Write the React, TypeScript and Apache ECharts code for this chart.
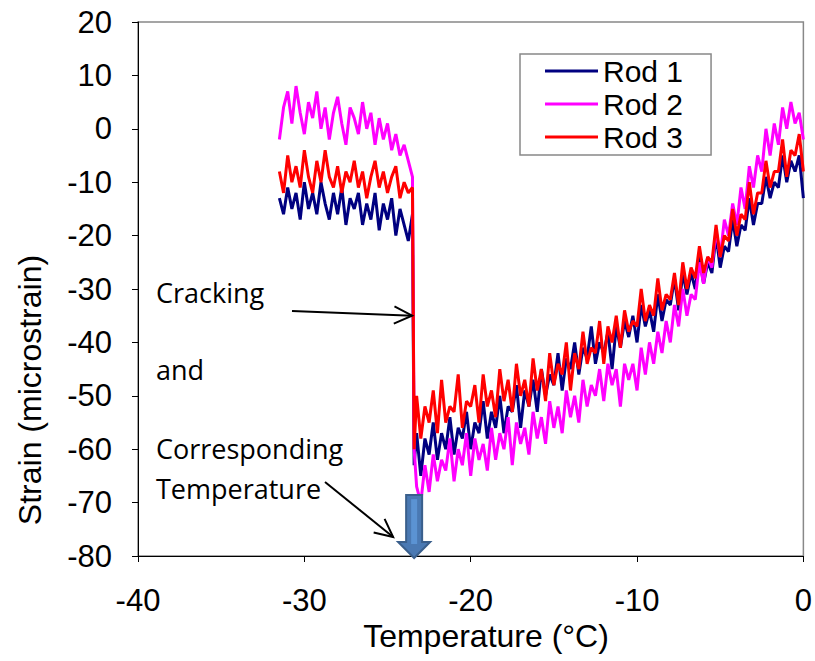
import React, { useEffect, useRef } from "react";
import * as echarts from "echarts";

const LEGEND_NAMES = ["Rod 1", "Rod 2", "Rod 3"];
const X_TICKS = [-40, -30, -20, -10, 0];
const Y_TICKS = [-80, -70, -60, -50, -40, -30, -20, -10, 0, 10, 20];

const PRE_T = [
  -31.5, -31.25, -31, -30.75, -30.5, -30.25, -30, -29.75, -29.5, -29.25, -29,
  -28.75, -28.5, -28.25, -28, -27.75, -27.5, -27.25, -27, -26.75, -26.5, -26.25,
  -26, -25.75, -25.5, -25.25, -25, -24.75, -24.5, -24.25, -24, -23.75, -23.5,
];
const POST_T = [
  -23.4, -23.25, -23, -22.75, -22.5, -22.25, -22, -21.75, -21.5, -21.25, -21,
  -20.75, -20.5, -20.25, -20, -19.75, -19.5, -19.25, -19, -18.75, -18.5, -18.25,
  -18, -17.75, -17.5, -17.25, -17, -16.75, -16.5, -16.25, -16, -15.75, -15.5,
  -15.25, -15, -14.75, -14.5, -14.25, -14, -13.75, -13.5, -13.25, -13, -12.75,
  -12.5, -12.25, -12, -11.75, -11.5, -11.25, -11, -10.75, -10.5, -10.25, -10,
  -9.75, -9.5, -9.25, -9, -8.75, -8.5, -8.25, -8, -7.75, -7.5, -7.25, -7, -6.75,
  -6.5, -6.25, -6, -5.75, -5.5, -5.25, -5, -4.75, -4.5, -4.25, -4, -3.75, -3.5,
  -3.25, -3, -2.75, -2.5, -2.25, -2, -1.75, -1.5, -1.25, -1, -0.75, -0.5, -0.25, 0,
];

const ROD1_PRE = [
  -13, -16, -11, -15, -12, -17, -10, -15, -12, -16, -10, -14, -17, -12, -16, -11,
  -18, -13, -15, -12, -18, -14, -17, -12, -19, -14, -17, -13, -20, -15, -18, -21, -16,
];
const ROD2_PRE = [
  -2, 4, 7, 1, 8, 3, -1, 5, 2, 7, 0, 4, -2, 3, 6, 1, -3, 4, 2, -1, 5, 0, 3, -3, 2,
  -2, 1, -4, -1, -5, -3, -6, -9,
];
const ROD3_PRE = [
  -8, -12, -5, -10, -7, -11, -4, -9, -12, -6, -10, -4, -9, -11, -7, -12, -8, -10,
  -6, -11, -8, -13, -9, -6, -11, -8, -12, -9, -7, -13, -10, -12, -11,
];

const ROD1_POST = [
  -63, -57, -65, -58, -61, -55, -62, -57, -60, -54,
  -61, -56, -58, -53, -60, -55, -57, -51, -58, -53,
  -56, -50, -57, -52, -53, -48, -56, -49, -52, -47,
  -53, -45, -50, -46, -48, -42, -49, -43, -45, -40,
  -46, -41, -43, -37, -44, -40, -42, -38, -45, -37,
  -41, -36, -39, -35, -40, -33, -37, -34, -38, -31,
  -36, -32, -33, -28, -34, -27, -31, -27, -30, -24,
  -29, -25, -27, -20, -26, -22, -23, -17, -22, -18,
  -19, -13, -18, -14, -14, -9, -13, -10, -11, -5,
  -10, -6, -8, -5, -13,
];
const ROD2_POST = [
  -60, -67, -70, -63, -68, -61, -66, -62, -64, -58,
  -66, -60, -63, -57, -65, -58, -62, -59, -64, -56,
  -62, -57, -60, -54, -63, -55, -59, -56, -61, -53,
  -58, -54, -59, -51, -56, -52, -57, -49, -54, -50,
  -55, -47, -52, -48, -50, -45, -51, -44, -48, -45,
  -52, -44, -47, -44, -49, -41, -46, -40, -44, -38,
  -42, -36, -40, -33, -37, -30, -35, -31, -32, -25,
  -29, -24, -26, -19, -24, -17, -20, -14, -18, -11,
  -15, -7, -11, -5, -8, 0, -5, 1, -3, 4,
  0, 5, 1, 3, -2,
];
const ROD3_POST = [
  -60, -50, -58, -52, -55, -49, -57, -47, -55, -52,
  -53, -46, -56, -51, -52, -48, -55, -46, -52, -49,
  -54, -45, -51, -47, -53, -44, -50, -47, -52, -43,
  -49, -45, -51, -42, -48, -44, -46, -40, -49, -42,
  -45, -38, -44, -41, -42, -36, -44, -37, -40, -35,
  -41, -34, -38, -36, -37, -30, -36, -33, -35, -28,
  -34, -31, -32, -27, -33, -25, -30, -26, -28, -22,
  -27, -24, -25, -18, -24, -20, -21, -15, -20, -16,
  -17, -10, -16, -12, -12, -6, -11, -8, -8, -2,
  -9, -4, -5, -1, -8,
];

const COLORS = ["#000080", "#FF00FF", "#FF0000"];
const AXIS_FONT = "'Liberation Sans', Arial, sans-serif";
const NOTE_FONT = "'Open Sans', 'Noto Sans', sans-serif";

function pairs(pre: number[], post: number[]) {
  const t = [...PRE_T, ...POST_T];
  const v = [...pre, ...post];
  return t.map((x, i) => [x, v[i]]);
}

export default function App() {
  const ref = useRef<HTMLDivElement>(null);
  useEffect(() => {
    if (!ref.current) return;
    const chart = echarts.init(ref.current, null, { renderer: "svg" });
    const rods = [
      pairs(ROD1_PRE, ROD1_POST),
      pairs(ROD2_PRE, ROD2_POST),
      pairs(ROD3_PRE, ROD3_POST),
    ];
    chart.setOption({
      animation: false,
      backgroundColor: "#fff",
      grid: {
        left: 138,
        right: 9,
        top: 22,
        bottom: 105,
        show: true,
        borderColor: "#888",
        borderWidth: 1.5,
        backgroundColor: "transparent",
      },
      legend: {
        data: LEGEND_NAMES,
        orient: "vertical",
        left: 520,
        top: 54,
        icon: "rect",
        itemWidth: 53,
        itemHeight: 3,
        itemGap: 3,
        padding: [2, 28, 3, 25],
        borderColor: "#888",
        borderWidth: 1.5,
        backgroundColor: "#fff",
        textStyle: { fontSize: 30, lineHeight: 30, fontFamily: AXIS_FONT, color: "#000" },
      },
      xAxis: {
        type: "value",
        min: X_TICKS[0],
        max: X_TICKS[X_TICKS.length - 1],
        interval: 10,
        splitLine: { show: false },
        axisLine: { onZero: false, lineStyle: { color: "#000", width: 1 } },
        axisTick: { show: true, length: 6, lineStyle: { color: "#000" } },
        axisLabel: { fontSize: 31, fontFamily: AXIS_FONT, color: "#000", margin: 29 },
      },
      yAxis: {
        type: "value",
        min: Y_TICKS[0],
        max: Y_TICKS[Y_TICKS.length - 1],
        interval: 10,
        splitLine: { show: false },
        axisLine: { show: true, onZero: false, lineStyle: { color: "#000", width: 1 } },
        axisTick: { show: true, length: 6, lineStyle: { color: "#000" } },
        axisLabel: { fontSize: 31, fontFamily: AXIS_FONT, color: "#000", margin: 26 },
      },
      series: LEGEND_NAMES.map((name, i) => ({
        name,
        type: "line",
        data: rods[i],
        symbol: "none",
        showSymbol: false,
        color: COLORS[i],
        lineStyle: { color: COLORS[i], width: 3 },
      })),
    });

    const crackT = POST_T[0];
    const tipA = chart.convertToPixel({ gridIndex: 0 }, [crackT, -35]) as number[];
    const arrTop = chart.convertToPixel({ gridIndex: 0 }, [crackT, -68.6]) as number[];
    const base = chart.convertToPixel({ gridIndex: 0 }, [crackT, -80]) as number[];
    const cx = arrTop[0];
    const yTop = arrTop[1];
    const yTip = base[1] + 2;
    const yHead = yTip - 16;
    const a1s = [292, 311];
    const a1e = [tipA[0] - 2, tipA[1]];
    const a2s = [325, 482];
    const a2e = [cx - 21, yTip - 21];

    function head(s: number[], e: number[], len: number, spread: number) {
      const ang = Math.atan2(e[1] - s[1], e[0] - s[0]);
      const p1 = [e[0] - len * Math.cos(ang - spread), e[1] - len * Math.sin(ang - spread)];
      const p2 = [e[0] - len * Math.cos(ang + spread), e[1] - len * Math.sin(ang + spread)];
      return [p1, e, p2];
    }

    chart.setOption({
      graphic: [
        {
          type: "text",
          x: 30,
          y: 390,
          rotation: Math.PI / 2,
          style: {
            text: "Strain (microstrain)",
            fontSize: 32,
            fontFamily: AXIS_FONT,
            fill: "#000",
            align: "center",
            verticalAlign: "middle",
          },
        },
        {
          type: "text",
          x: 486,
          y: 636,
          style: {
            text: "Temperature (°C)",
            fontSize: 32,
            fontFamily: AXIS_FONT,
            fill: "#000",
            align: "center",
            verticalAlign: "middle",
          },
        },
        ...[
          ["Cracking", 292],
          ["and", 369],
          ["Corresponding", 448],
          ["Temperature", 488],
        ].map(([t, y]) => ({
          type: "text",
          x: 156,
          y: y as number,
          z: 100,
          style: {
            text: t as string,
            fontSize: 27,
            fontFamily: NOTE_FONT,
            fill: "#000",
            align: "left",
            verticalAlign: "middle",
          },
        })),
        {
          type: "line",
          z: 100,
          shape: { x1: a1s[0], y1: a1s[1], x2: a1e[0], y2: a1e[1] },
          style: { stroke: "#000", lineWidth: 2 },
        },
        {
          type: "polyline",
          z: 100,
          shape: { points: head(a1s, a1e, 20, 0.45) },
          style: { stroke: "#000", lineWidth: 2, fill: null },
        },
        {
          type: "line",
          z: 100,
          shape: { x1: a2s[0], y1: a2s[1], x2: a2e[0], y2: a2e[1] },
          style: { stroke: "#000", lineWidth: 2 },
        },
        {
          type: "polyline",
          z: 100,
          shape: { points: head(a2s, a2e, 20, 0.45) },
          style: { stroke: "#000", lineWidth: 2, fill: null },
        },
        {
          type: "polygon",
          z: 101,
          shape: {
            points: [
              [cx - 8, yTop],
              [cx + 8, yTop],
              [cx + 8, yHead],
              [cx + 16, yHead],
              [cx, yTip],
              [cx - 16, yHead],
              [cx - 8, yHead],
            ],
          },
          style: { fill: "#4A79B3", stroke: "#3A5F8C", lineWidth: 2 },
        },
        {
          type: "rect",
          z: 102,
          shape: { x: cx - 3, y: yTop + 4, width: 6, height: yHead - yTop - 2 },
          style: { fill: "#5B93D3" },
        },
      ],
    });

    return () => chart.dispose();
  }, []);
  return (
    <div
      ref={ref}
      style={{ position: "absolute", left: 0, top: 0, width: 815, height: 661 }}
    />
  );
}
